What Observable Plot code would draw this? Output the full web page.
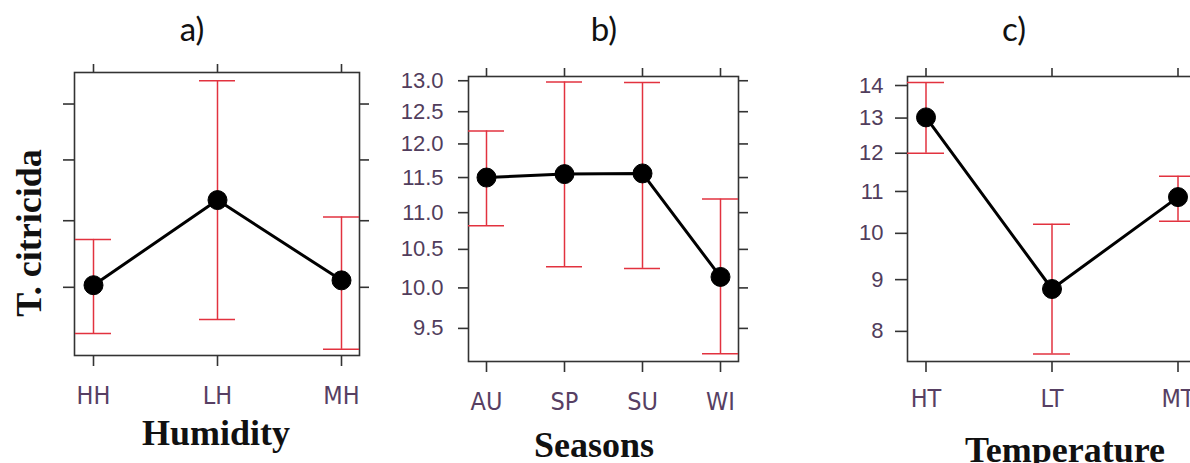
<!DOCTYPE html>
<html>
<head>
<meta charset="utf-8">
<script src="https://cdn.jsdelivr.net/npm/d3@7"></script>
<script src="https://cdn.jsdelivr.net/npm/@observablehq/plot@0.6"></script>
<style>
  html, body { margin: 0; padding: 0; background: #fff; overflow: hidden; }
  #root { position: relative; width: 1190px; height: 463px; overflow: hidden; background: #fff; }
  .panel { position: absolute; top: 0; width: 420px; }
  .panel svg { overflow: visible; max-width: none !important; }
  .panel [aria-label="x-axis tick label"] text {
    font-family: "DejaVu Sans Condensed", "Liberation Sans Narrow", "Liberation Sans", sans-serif;
    font-size: 25px; fill: #573f63;
  }
  #overlay { position: absolute; left: 0; top: 0; pointer-events: none; }
</style>
</head>
<body>
<div id="root"></div>
<script>
// ---- Data ----
const humidityCats  = ["HH", "LH", "MH"];
const humidityMean  = [10.03, 11.33, 10.10];
const humidityLower = [9.36, 9.55, 9.15];
const humidityUpper = [10.71, 13.44, 11.06];
const humidityTicks = [10, 11, 12, 13];
const humidityDomain = [9.07, 13.6];

const seasonCats  = ["AU", "SP", "SU", "WI"];
const seasonMean  = [11.50, 11.55, 11.56, 10.14];
const seasonLower = [10.82, 10.27, 10.25, 9.20];
const seasonUpper = [12.20, 12.98, 12.97, 11.19];
const seasonTicks = [9.5, 10, 10.5, 11, 11.5, 12, 12.5, 13];
const seasonDomain = [9.11, 13.07];

const tempCats  = ["HT", "LT", "MT"];
const tempMean  = [13.02, 8.81, 10.86];
const tempLower = [12.0, 7.6, 10.28];
const tempUpper = [14.1, 10.21, 11.39];
const tempTicks = [8, 9, 10, 11, 12, 13, 14];
const tempDomain = [7.47, 14.29];

const panelTitles = ["a)", "b)", "c)"];
const xTitles = ["Humidity", "Seasons", "Temperature"];
const yTitle = "T. citricida";

const RED = "#e2323f";
const AXIS = "#333";

function table(cats, mean, lo, hi) {
  return cats.map((c, i) => ({cat: c, mean: mean[i], lo: lo[i], hi: hi[i]}));
}

function panel(cfg) {
  const data = table(cfg.cats, cfg.mean, cfg.lo, cfg.hi);
  const marks = [
    Plot.frame({stroke: AXIS, strokeWidth: 1.6}),
    Plot.axisX({anchor: "bottom", tickSize: cfg.xTickB, tickPadding: cfg.xPad, stroke: AXIS, strokeWidth: 1.6, label: null}),
    Plot.axisX({anchor: "top", tickSize: 9, stroke: AXIS, strokeWidth: 1.6, tickFormat: () => "", label: null}),
    Plot.axisY({anchor: "left", ticks: cfg.ticks, tickSize: cfg.yTickL, stroke: AXIS, strokeWidth: 1.6, tickFormat: () => "", label: null}),
    Plot.axisY({anchor: "right", ticks: cfg.ticks, tickSize: 9, stroke: AXIS, strokeWidth: 1.6, tickFormat: () => "", label: null}),
  ];
  if (cfg.showY) {
    marks.push(Plot.text(cfg.ticks, {
      y: d => d, text: d => cfg.fmt(d), frameAnchor: "left", textAnchor: "end",
      dx: -(cfg.yTickL + cfg.yPad), fontSize: 22, fontFamily: "Liberation Sans, Arial, sans-serif", fill: "#513d5c"
    }));
  }
  marks.push(
    Plot.ruleX(data, {x: "cat", y1: "lo", y2: "hi", stroke: RED, strokeWidth: 1.5}),
    Plot.tickY(data, {x: "cat", y: "lo", stroke: RED, strokeWidth: 1.5}),
    Plot.tickY(data, {x: "cat", y: "hi", stroke: RED, strokeWidth: 1.5}),
    Plot.line(data, {x: "cat", y: "mean", stroke: "#000", strokeWidth: 3}),
    Plot.dot(data, {x: "cat", y: "mean", r: 9.5, fill: "#000", stroke: "#000", strokeWidth: 1})
  );
  const plot = Plot.plot({
    width: cfg.width,
    height: cfg.height,
    marginLeft: cfg.ml, marginTop: cfg.mt, marginRight: cfg.mr, marginBottom: cfg.mb,
    style: {background: "transparent", overflow: "visible", maxWidth: "none"},
    x: {type: "band", domain: cfg.cats, paddingInner: cfg.pad, paddingOuter: 0, align: 0.5, label: null},
    y: {type: "log", domain: cfg.domain, label: null},
    marks
  });
  const wrap = document.createElement("div");
  wrap.className = "panel";
  wrap.style.left = cfg.left + "px";
  wrap.style.width = cfg.width + "px";
  wrap.appendChild(plot);
  document.getElementById("root").appendChild(wrap);
}

// Panel a: frame x 74..359, y 72..355
panel({cats: humidityCats, mean: humidityMean, lo: humidityLower, hi: humidityUpper,
  ticks: humidityTicks, domain: humidityDomain, showY: false, fmt: d3.format("d"),
  left: 0, ml: 74, mt: 72, mr: 20, mb: 60, width: 74 + 285 + 20, height: 72 + 283 + 60,
  pad: 0.71, xTickB: 11, xPad: 20, yTickL: 11, yPad: 12});

// Panel b: frame x 468..738, y 76..361
panel({cats: seasonCats, mean: seasonMean, lo: seasonLower, hi: seasonUpper,
  ticks: seasonTicks, domain: seasonDomain, showY: true, fmt: d3.format(".1f"),
  left: 380, ml: 88, mt: 76, mr: 20, mb: 60, width: 88 + 270 + 20, height: 76 + 285 + 60,
  pad: 0.54, xTickB: 11, xPad: 20, yTickL: 10, yPad: 15});

// Panel c: frame x 907..1196, y 76..361
panel({cats: tempCats, mean: tempMean, lo: tempLower, hi: tempUpper,
  ticks: tempTicks, domain: tempDomain, showY: true, fmt: d3.format("d"),
  left: 800, ml: 107, mt: 76, mr: 20, mb: 60, width: 107 + 289 + 20, height: 76 + 285 + 60,
  pad: 0.71, xTickB: 11, xPad: 17, yTickL: 12, yPad: 12});

// Titles and axis titles overlay
const ov = d3.select("#root").append("svg").attr("id", "overlay")
  .attr("width", 1190).attr("height", 463);
const titleX = [192, 604, 1014];
panelTitles.forEach((t, i) => {
  ov.append("text").attr("x", titleX[i]).attr("y", 41).attr("text-anchor", "middle")
    .attr("font-family", "Lato, 'Open Sans', sans-serif").attr("font-size", 33).attr("fill", "#111").text(t);
});
const xtX = [216, 594, 1065], xtY = [445, 457, 462];
xTitles.forEach((t, i) => {
  ov.append("text").attr("x", xtX[i]).attr("y", xtY[i]).attr("text-anchor", "middle")
    .attr("font-family", "'Liberation Serif', 'DejaVu Serif', serif").attr("font-weight", "bold")
    .attr("font-size", 36).attr("fill", "#111").text(t);
});
ov.append("text").attr("transform", "translate(41,233) rotate(-90)").attr("text-anchor", "middle")
  .attr("font-family", "'Liberation Serif', 'DejaVu Serif', serif").attr("font-weight", "bold")
  .attr("font-size", 36).attr("fill", "#111").text(yTitle);
</script>
</body>
</html>
